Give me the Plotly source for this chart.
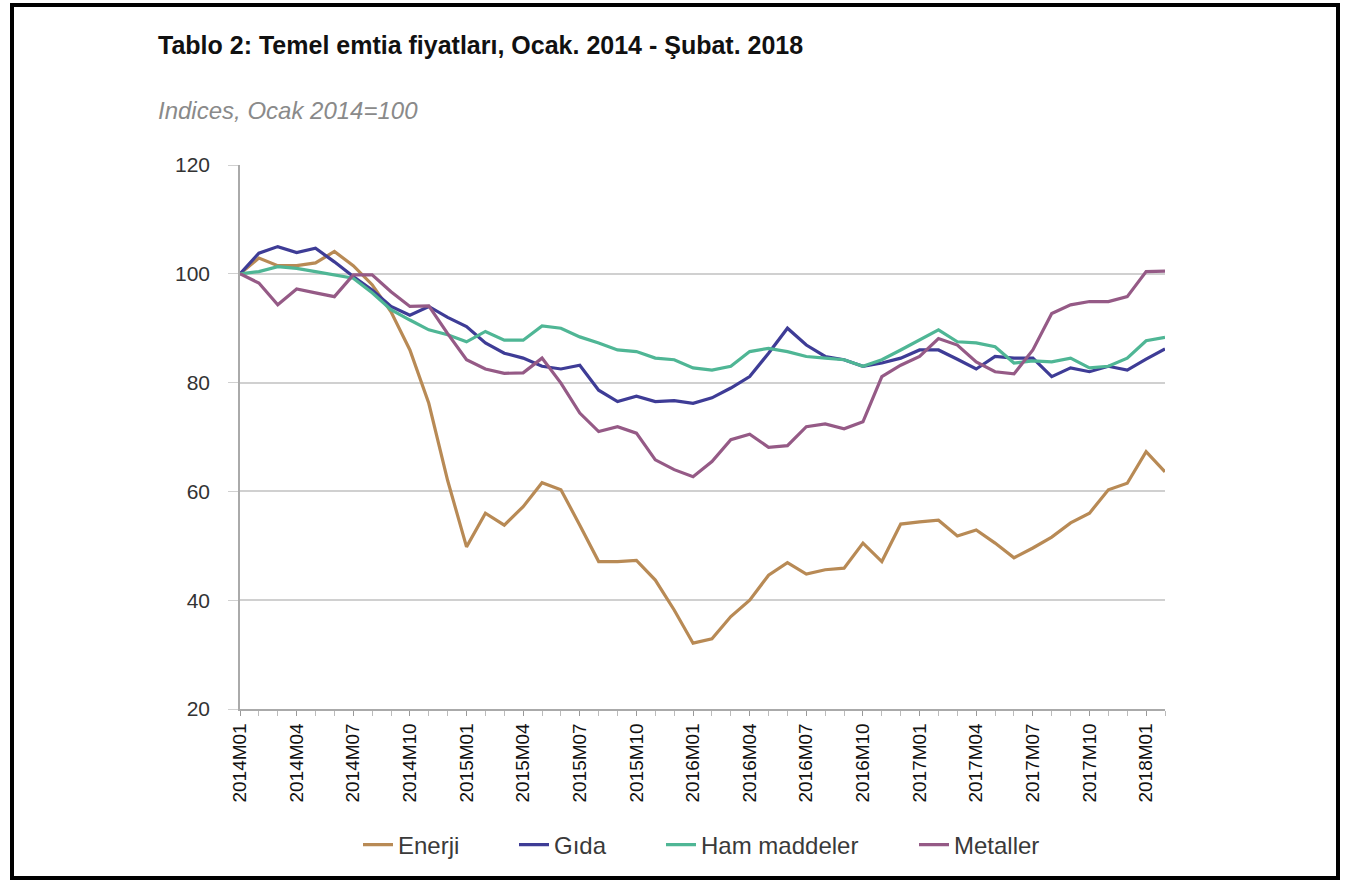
import plotly.graph_objects as go

months = []
for y in range(2014, 2019):
    for m in range(1, 13):
        months.append(f"{y}M{m:02d}")
months = months[:50]  # 2014M01 .. 2018M02

enerji = [100, 102.9, 101.5, 101.5, 102, 104.1, 101.5, 98, 93, 86, 76.2, 62, 49.8, 56, 53.8, 57.2,
          61.6, 60.3, 53.8, 47.1, 47.1, 47.3, 43.7, 38.2, 32.1, 32.9, 37, 40, 44.6, 46.9,
          44.8, 45.6, 45.9, 50.5, 47.1, 54, 54.4, 54.7, 51.8, 52.9, 50.5, 47.8, 49.6, 51.6,
          54.2, 56, 60.3, 61.5, 67.3, 63.6]
gida = [100, 103.8, 105, 103.9, 104.7, 102.2, 99.5, 97, 94, 92.4, 94, 92, 90.3, 87.3, 85.4, 84.5,
        83, 82.5, 83.2, 78.6, 76.5, 77.5, 76.5, 76.7, 76.2, 77.2, 79, 81.1, 85.4, 90,
        86.9, 84.8, 84.2, 83, 83.6, 84.5, 86, 86, 84.3, 82.5, 84.8, 84.5, 84.5, 81.1,
        82.7, 82, 83, 82.3, 84.3, 86.2]
ham = [100, 100.4, 101.3, 101, 100.4, 99.8, 99.2, 96.5, 93.4, 91.5, 89.7, 88.8, 87.5, 89.4, 87.8, 87.8,
       90.4, 90, 88.4, 87.3, 86, 85.7, 84.5, 84.2, 82.7, 82.3, 83, 85.7, 86.3, 85.7,
       84.8, 84.5, 84.2, 83, 84.2, 86, 87.8, 89.7, 87.5, 87.3, 86.6, 83.6, 84, 83.8,
       84.5, 82.7, 83, 84.5, 87.7, 88.3]
metaller = [100, 98.3, 94.3, 97.2, 96.5, 95.8, 99.8, 99.8, 96.7, 94, 94.1, 89, 84.2, 82.5, 81.7, 81.8,
            84.5, 79.9, 74.4, 71, 71.9, 70.7, 65.8, 64, 62.7, 65.5, 69.5, 70.5, 68.1, 68.4,
            71.9, 72.4, 71.5, 72.8, 81.1, 83.2, 84.8, 88.1, 86.9, 83.8, 82, 81.6, 86, 92.7,
            94.3, 94.9, 94.9, 95.8, 100.4, 100.5]

series_names = ["Enerji", "Gıda", "Ham maddeler", "Metaller"]
series_values = [enerji, gida, ham, metaller]
series_colors = ["#B88A55", "#3E3C96", "#4FB695", "#955A86"]

tick_labels = months[::3]
x_idx = list(range(len(months)))

# plot-area geometry (pixels)
L, R, T, B = 240, 1165, 165, 709
PW, PH = R - L, B - T

def px_x(px):
    return (px - L) / PW

def px_y(py):
    return (B - py) / PH

font = "Liberation Sans, Arial, sans-serif"
legend_names = ["legend", "legend2", "legend3", "legend4"]
legend_left_px = [358, 514, 661, 914]

fig = go.Figure()
for name, vals, col, lg in zip(series_names, series_values, series_colors, legend_names):
    fig.add_trace(go.Scatter(x=x_idx, y=vals, mode="lines", name=name, legend=lg,
                             line=dict(color=col, width=3.2), customdata=months,
                             hovertemplate="%{customdata}: %{y}<extra>" + name + "</extra>"))

legend_common = dict(orientation="h", yanchor="middle", xanchor="left",
                     font=dict(family=font, size=24, color="#3a3a3a"),
                     bgcolor="rgba(0,0,0,0)", itemwidth=30)
layout_legends = {}
for lg, lx in zip(legend_names, legend_left_px):
    layout_legends[lg] = dict(legend_common, x=px_x(lx), y=px_y(845))

fig.update_layout(
    width=1355, height=881,
    margin=dict(l=L, r=1355 - R, t=T, b=881 - B),
    paper_bgcolor="white", plot_bgcolor="white",
    showlegend=True,
    xaxis=dict(range=[0, len(months) - 1], tickmode="array",
               tickvals=x_idx[::3], ticktext=tick_labels, tickangle=-90,
               ticks="outside", ticklen=5, tickcolor="#999999",
               minor=dict(dtick=1, ticks="outside", ticklen=5, tickcolor="#bbbbbb"),
               showline=True, linecolor="#aaaaaa", linewidth=1.5, showgrid=False,
               zeroline=False,
               tickfont=dict(family=font, size=19, color="#111111")),
    yaxis=dict(range=[20, 120], tickmode="linear", tick0=20, dtick=20,
               showgrid=True, gridcolor="#d0d0d0", gridwidth=1.5,
               showline=True, linecolor="#aaaaaa", linewidth=1.5,
               ticks="outside", ticklen=10, tickcolor="#d0d0d0",
               zeroline=False, ticklabelstandoff=14,
               tickfont=dict(family=font, size=21, color="#333333")),
    **layout_legends,
)

fig.add_annotation(text="<b>Tablo 2: Temel emtia fiyatları, Ocak. 2014 - Şubat. 2018</b>",
                   xref="paper", yref="paper", x=px_x(156), y=px_y(45),
                   xanchor="left", yanchor="middle", showarrow=False,
                   font=dict(family=font, size=25, color="#111111"))
fig.add_annotation(text="<i>Indices, Ocak 2014=100</i>",
                   xref="paper", yref="paper", x=px_x(156), y=px_y(110),
                   xanchor="left", yanchor="middle", showarrow=False,
                   font=dict(family=font, size=24, color="#8a8a8a"))

# outer black frame
fig.add_shape(type="rect", xref="paper", yref="paper",
              x0=px_x(12), x1=px_x(1338), y0=px_y(878), y1=px_y(5),
              line=dict(color="black", width=4), fillcolor="rgba(0,0,0,0)", layer="above")

fig.write_html("out.html")
